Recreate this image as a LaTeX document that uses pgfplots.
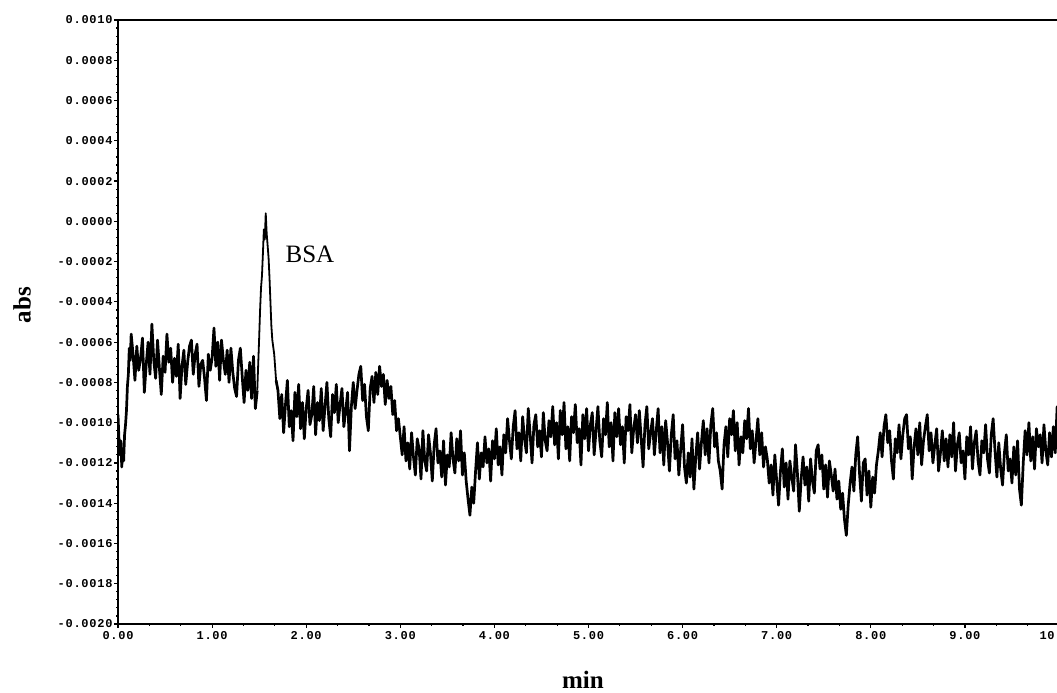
\documentclass[border=0pt]{standalone}
\usepackage{pgfplots}
\pgfplotsset{compat=1.18}
\usepackage{fontspec}
\setmainfont{Liberation Serif}
\newfontfamily\tickfont[LetterSpace=6]{Liberation Mono}

% absorbance trace, min vs abs
\pgfplotstableread{
t a
0.00 -9.6e-4
0.01 -10.8e-4
0.02 -11.6e-4
0.03 -10.9e-4
0.04 -12.2e-4
0.05 -11.3e-4
0.06 -11.9e-4
0.07 -10.6e-4
0.08 -10.1e-4
0.09 -9.4e-4
0.10 -8.2e-4
0.11 -7.6e-4
0.12 -6.3e-4
0.13 -6.9e-4
0.14 -5.6e-4
0.16 -6.6e-4
0.18 -7.9e-4
0.20 -6.2e-4
0.22 -7.4e-4
0.24 -6.8e-4
0.26 -5.8e-4
0.28 -8.5e-4
0.30 -7.1e-4
0.32 -6.0e-4
0.34 -7.6e-4
0.36 -5.1e-4
0.38 -6.9e-4
0.40 -7.8e-4
0.42 -5.9e-4
0.44 -7.3e-4
0.46 -8.6e-4
0.48 -6.7e-4
0.50 -7.5e-4
0.52 -5.6e-4
0.54 -7.0e-4
0.56 -6.3e-4
0.58 -8.0e-4
0.60 -6.8e-4
0.62 -7.7e-4
0.64 -6.1e-4
0.66 -8.8e-4
0.68 -7.2e-4
0.70 -6.4e-4
0.72 -8.1e-4
0.74 -7.0e-4
0.76 -6.2e-4
0.78 -5.9e-4
0.80 -7.6e-4
0.82 -6.6e-4
0.84 -6.1e-4
0.86 -8.2e-4
0.88 -7.1e-4
0.90 -6.9e-4
0.92 -7.8e-4
0.94 -8.9e-4
0.96 -6.6e-4
0.98 -7.4e-4
1.00 -6.8e-4
1.02 -5.3e-4
1.04 -7.2e-4
1.06 -6.0e-4
1.08 -7.9e-4
1.10 -5.9e-4
1.12 -6.9e-4
1.14 -7.6e-4
1.16 -6.4e-4
1.18 -8.0e-4
1.20 -6.3e-4
1.22 -7.5e-4
1.24 -8.3e-4
1.26 -8.7e-4
1.28 -6.9e-4
1.30 -6.3e-4
1.32 -7.7e-4
1.34 -9.0e-4
1.36 -7.4e-4
1.38 -8.4e-4
1.40 -7.0e-4
1.42 -8.8e-4
1.44 -6.7e-4
1.46 -9.3e-4
1.48 -8.4e-4
1.50 -5.8e-4
1.51 -4.4e-4
1.52 -3.3e-4
1.53 -2.7e-4
1.54 -1.6e-4
1.55 -0.4e-4
1.56 -0.9e-4
1.57 0.4e-4
1.58 -0.6e-4
1.59 -1.2e-4
1.60 -1.8e-4
1.61 -2.8e-4
1.62 -4.0e-4
1.63 -5.2e-4
1.64 -5.9e-4
1.66 -6.6e-4
1.68 -7.9e-4
1.70 -8.4e-4
1.72 -9.8e-4
1.74 -8.6e-4
1.76 -10.5e-4
1.78 -9.1e-4
1.80 -7.9e-4
1.82 -10.2e-4
1.84 -9.4e-4
1.86 -10.9e-4
1.88 -8.5e-4
1.90 -9.7e-4
1.92 -8.1e-4
1.94 -10.3e-4
1.96 -9.0e-4
1.98 -10.8e-4
2.00 -9.3e-4
2.02 -8.4e-4
2.04 -10.1e-4
2.06 -9.6e-4
2.08 -8.2e-4
2.10 -10.6e-4
2.12 -9.0e-4
2.14 -9.9e-4
2.16 -8.3e-4
2.18 -10.4e-4
2.20 -9.2e-4
2.22 -8.0e-4
2.24 -9.8e-4
2.26 -10.7e-4
2.28 -8.6e-4
2.30 -9.5e-4
2.32 -8.1e-4
2.34 -10.0e-4
2.36 -9.1e-4
2.38 -8.3e-4
2.40 -10.2e-4
2.42 -9.4e-4
2.44 -8.5e-4
2.46 -11.4e-4
2.48 -9.2e-4
2.50 -8.0e-4
2.52 -9.3e-4
2.54 -8.4e-4
2.56 -7.6e-4
2.58 -7.2e-4
2.60 -8.9e-4
2.62 -8.1e-4
2.64 -9.7e-4
2.66 -10.4e-4
2.68 -8.3e-4
2.70 -7.7e-4
2.72 -9.0e-4
2.74 -7.5e-4
2.76 -8.6e-4
2.78 -7.2e-4
2.80 -8.2e-4
2.82 -7.6e-4
2.84 -9.1e-4
2.86 -7.9e-4
2.88 -8.8e-4
2.90 -8.2e-4
2.92 -9.6e-4
2.94 -8.9e-4
2.96 -10.4e-4
2.98 -9.8e-4
3.00 -10.7e-4
3.02 -11.6e-4
3.04 -10.2e-4
3.06 -11.9e-4
3.08 -11.0e-4
3.10 -12.3e-4
3.12 -10.5e-4
3.14 -11.7e-4
3.16 -12.6e-4
3.18 -10.8e-4
3.20 -11.3e-4
3.22 -12.8e-4
3.24 -10.4e-4
3.26 -11.9e-4
3.28 -12.4e-4
3.30 -10.6e-4
3.32 -11.5e-4
3.34 -12.9e-4
3.36 -11.1e-4
3.38 -10.3e-4
3.40 -12.0e-4
3.42 -11.4e-4
3.44 -12.7e-4
3.46 -10.9e-4
3.48 -13.1e-4
3.50 -11.6e-4
3.52 -12.2e-4
3.54 -10.5e-4
3.56 -11.8e-4
3.58 -12.5e-4
3.60 -10.8e-4
3.62 -11.9e-4
3.64 -10.4e-4
3.66 -12.6e-4
3.68 -11.5e-4
3.70 -12.9e-4
3.72 -13.8e-4
3.74 -14.6e-4
3.76 -13.2e-4
3.78 -14.0e-4
3.80 -12.4e-4
3.82 -11.0e-4
3.84 -12.8e-4
3.86 -11.5e-4
3.88 -12.2e-4
3.90 -10.7e-4
3.92 -12.0e-4
3.94 -11.3e-4
3.96 -12.9e-4
3.98 -10.9e-4
4.00 -11.8e-4
4.02 -10.3e-4
4.04 -12.1e-4
4.06 -11.2e-4
4.08 -12.6e-4
4.10 -10.6e-4
4.12 -11.5e-4
4.14 -9.8e-4
4.16 -10.9e-4
4.18 -11.8e-4
4.20 -10.2e-4
4.22 -9.4e-4
4.24 -11.3e-4
4.26 -10.5e-4
4.28 -11.9e-4
4.30 -9.7e-4
4.32 -10.8e-4
4.34 -11.5e-4
4.36 -9.3e-4
4.38 -10.6e-4
4.40 -12.0e-4
4.42 -10.1e-4
4.44 -9.6e-4
4.46 -11.2e-4
4.48 -10.4e-4
4.50 -11.7e-4
4.52 -9.5e-4
4.54 -10.9e-4
4.56 -11.4e-4
4.58 -9.9e-4
4.60 -10.7e-4
4.62 -9.2e-4
4.64 -11.1e-4
4.66 -10.0e-4
4.68 -11.8e-4
4.70 -9.4e-4
4.72 -10.6e-4
4.74 -9.0e-4
4.76 -11.3e-4
4.78 -10.2e-4
4.80 -11.9e-4
4.82 -9.7e-4
4.84 -10.5e-4
4.86 -9.1e-4
4.88 -11.0e-4
4.90 -10.3e-4
4.92 -12.1e-4
4.94 -9.6e-4
4.96 -10.8e-4
4.98 -9.3e-4
5.00 -11.4e-4
5.02 -10.1e-4
5.04 -9.5e-4
5.06 -11.6e-4
5.08 -10.4e-4
5.10 -9.2e-4
5.12 -10.9e-4
5.14 -11.7e-4
5.16 -9.8e-4
5.18 -10.6e-4
5.20 -9.0e-4
5.22 -11.2e-4
5.24 -10.0e-4
5.26 -11.9e-4
5.28 -9.5e-4
5.30 -10.7e-4
5.32 -9.3e-4
5.34 -11.1e-4
5.36 -10.2e-4
5.38 -12.0e-4
5.40 -9.7e-4
5.42 -10.4e-4
5.44 -9.1e-4
5.46 -11.5e-4
5.48 -10.3e-4
5.50 -9.6e-4
5.52 -11.0e-4
5.54 -9.4e-4
5.56 -10.8e-4
5.58 -12.2e-4
5.60 -10.1e-4
5.62 -9.2e-4
5.64 -11.3e-4
5.66 -10.5e-4
5.68 -9.8e-4
5.70 -11.6e-4
5.72 -10.4e-4
5.74 -9.3e-4
5.76 -11.5e-4
5.78 -10.2e-4
5.80 -12.1e-4
5.82 -9.9e-4
5.84 -11.0e-4
5.86 -12.4e-4
5.88 -10.6e-4
5.90 -9.6e-4
5.92 -11.8e-4
5.94 -10.9e-4
5.96 -12.6e-4
5.98 -11.3e-4
6.00 -10.1e-4
6.02 -12.2e-4
6.04 -13.0e-4
6.06 -11.5e-4
6.08 -12.7e-4
6.10 -10.8e-4
6.12 -13.3e-4
6.14 -11.7e-4
6.16 -10.5e-4
6.18 -12.3e-4
6.20 -11.0e-4
6.22 -9.9e-4
6.24 -11.6e-4
6.26 -10.3e-4
6.28 -12.0e-4
6.30 -10.1e-4
6.32 -9.3e-4
6.34 -11.2e-4
6.36 -10.5e-4
6.38 -11.9e-4
6.40 -12.4e-4
6.42 -13.3e-4
6.44 -11.1e-4
6.46 -10.2e-4
6.48 -11.7e-4
6.50 -9.8e-4
6.52 -10.6e-4
6.54 -9.4e-4
6.56 -11.4e-4
6.58 -10.0e-4
6.60 -12.1e-4
6.62 -10.7e-4
6.64 -11.5e-4
6.66 -9.9e-4
6.68 -10.8e-4
6.70 -9.3e-4
6.72 -11.3e-4
6.74 -10.4e-4
6.76 -12.0e-4
6.78 -10.9e-4
6.80 -9.8e-4
6.82 -11.6e-4
6.84 -10.5e-4
6.86 -12.2e-4
6.88 -11.2e-4
6.90 -11.8e-4
6.92 -13.0e-4
6.94 -12.1e-4
6.96 -13.6e-4
6.98 -11.6e-4
7.00 -12.9e-4
7.02 -14.1e-4
7.04 -12.4e-4
7.06 -11.3e-4
7.08 -13.2e-4
7.10 -12.0e-4
7.12 -13.8e-4
7.14 -11.9e-4
7.16 -12.7e-4
7.18 -13.4e-4
7.20 -11.1e-4
7.22 -12.5e-4
7.24 -14.4e-4
7.26 -12.8e-4
7.28 -11.7e-4
7.30 -13.1e-4
7.32 -12.2e-4
7.34 -13.9e-4
7.36 -11.8e-4
7.38 -12.9e-4
7.40 -13.5e-4
7.42 -11.4e-4
7.44 -11.1e-4
7.46 -12.3e-4
7.48 -11.6e-4
7.50 -13.3e-4
7.52 -12.1e-4
7.54 -13.7e-4
7.56 -11.9e-4
7.58 -12.6e-4
7.60 -13.4e-4
7.62 -12.3e-4
7.64 -13.8e-4
7.66 -12.9e-4
7.68 -14.3e-4
7.70 -13.5e-4
7.72 -14.8e-4
7.74 -15.6e-4
7.76 -14.1e-4
7.78 -13.0e-4
7.80 -12.2e-4
7.82 -13.4e-4
7.84 -11.6e-4
7.86 -10.7e-4
7.88 -12.5e-4
7.90 -13.9e-4
7.92 -12.0e-4
7.94 -11.8e-4
7.96 -13.6e-4
7.98 -12.4e-4
8.00 -14.2e-4
8.02 -12.7e-4
8.04 -13.5e-4
8.06 -12.1e-4
8.08 -11.4e-4
8.10 -10.5e-4
8.12 -11.7e-4
8.14 -10.2e-4
8.16 -9.6e-4
8.18 -11.0e-4
8.20 -10.4e-4
8.22 -11.9e-4
8.24 -12.8e-4
8.26 -10.8e-4
8.28 -11.5e-4
8.30 -10.1e-4
8.32 -11.8e-4
8.34 -10.6e-4
8.36 -9.8e-4
8.38 -9.6e-4
8.40 -11.3e-4
8.42 -10.7e-4
8.44 -12.8e-4
8.46 -11.2e-4
8.48 -10.3e-4
8.50 -11.6e-4
8.52 -10.0e-4
8.54 -12.1e-4
8.56 -10.9e-4
8.58 -10.2e-4
8.60 -9.6e-4
8.62 -11.4e-4
8.64 -10.5e-4
8.66 -12.0e-4
8.68 -11.1e-4
8.70 -10.3e-4
8.72 -12.4e-4
8.74 -11.5e-4
8.76 -10.4e-4
8.78 -11.9e-4
8.80 -10.8e-4
8.82 -12.2e-4
8.84 -10.6e-4
8.86 -11.7e-4
8.88 -10.0e-4
8.90 -12.4e-4
8.92 -11.1e-4
8.94 -10.5e-4
8.96 -12.0e-4
8.98 -11.4e-4
9.00 -12.8e-4
9.02 -10.7e-4
9.04 -11.6e-4
9.06 -10.2e-4
9.08 -12.3e-4
9.10 -11.0e-4
9.12 -10.4e-4
9.14 -11.9e-4
9.16 -12.6e-4
9.18 -10.9e-4
9.20 -11.5e-4
9.22 -10.1e-4
9.24 -11.8e-4
9.26 -12.5e-4
9.28 -10.6e-4
9.30 -9.8e-4
9.32 -11.4e-4
9.34 -12.7e-4
9.36 -11.0e-4
9.38 -12.3e-4
9.40 -13.1e-4
9.42 -11.5e-4
9.44 -10.6e-4
9.46 -12.4e-4
9.48 -11.8e-4
9.50 -13.0e-4
9.52 -11.2e-4
9.54 -12.6e-4
9.56 -10.9e-4
9.58 -13.3e-4
9.60 -14.1e-4
9.62 -12.0e-4
9.64 -10.4e-4
9.66 -11.6e-4
9.68 -10.0e-4
9.70 -11.9e-4
9.72 -10.7e-4
9.74 -12.3e-4
9.76 -10.3e-4
9.78 -11.2e-4
9.80 -10.6e-4
9.82 -12.0e-4
9.84 -10.1e-4
9.86 -11.4e-4
9.88 -12.1e-4
9.90 -10.5e-4
9.92 -11.7e-4
9.94 -10.2e-4
9.96 -11.5e-4
9.98 -9.2e-4
10.00 -10.0e-4
}\trace

\begin{document}
\begin{tikzpicture}
\begin{axis}[
  at={(118pt,69pt)}, anchor=south west,
  scale only axis, width=941pt, height=604pt,
  xmin=0, xmax=10, ymin=-0.002, ymax=0.001,
  axis line style={line width=2pt},
  tick pos=left, tick align=outside,
  major tick length=4pt, minor tick length=2pt,
  every tick/.style={black, line width=1.2pt},
  minor x tick num=2, minor y tick num=4,
  xtick={0,1,2,3,4,5,6,7,8,9,10},
  ytick={-0.002,-0.0018,-0.0016,-0.0014,-0.0012,-0.001,-0.0008,-0.0006,-0.0004,-0.0002,0,0.0002,0.0004,0.0006,0.0008,0.001},
  scaled ticks=false,
  xticklabel style={font=\tickfont\bfseries\fontsize{12}{12}\selectfont,
    /pgf/number format/.cd, fixed, fixed zerofill, precision=2, assume math mode=true},
  yticklabel style={font=\tickfont\bfseries\fontsize{12}{12}\selectfont, xshift=2pt,
    /pgf/number format/.cd, fixed, fixed zerofill, precision=4, assume math mode=true},
]
% the noisy baseline is drawn heavy, the peak flanks lighter
\addplot[black, line width=2.7pt, line join=round, restrict x to domain=0:1.49] table[x=t, y=a] {\trace};
\addplot[black, line width=1.8pt, line join=round, restrict x to domain=1.48:1.70] table[x=t, y=a] {\trace};
\addplot[black, line width=2.7pt, line join=round, restrict x to domain=1.68:10] table[x=t, y=a] {\trace};
\node[font=\fontsize{25}{25}\selectfont, anchor=center] at (axis cs:2.04,-0.000166) {BSA};
\end{axis}
\node[font=\bfseries\fontsize{25}{25}\selectfont, anchor=base] at (583pt,4pt) {min};
\node[font=\bfseries\fontsize{25}{25}\selectfont, rotate=90, anchor=center] at (22pt,388pt) {abs};
\pgfresetboundingbox
\useasboundingbox (0,0) rectangle (1057pt,693pt);
\end{tikzpicture}
\end{document}
